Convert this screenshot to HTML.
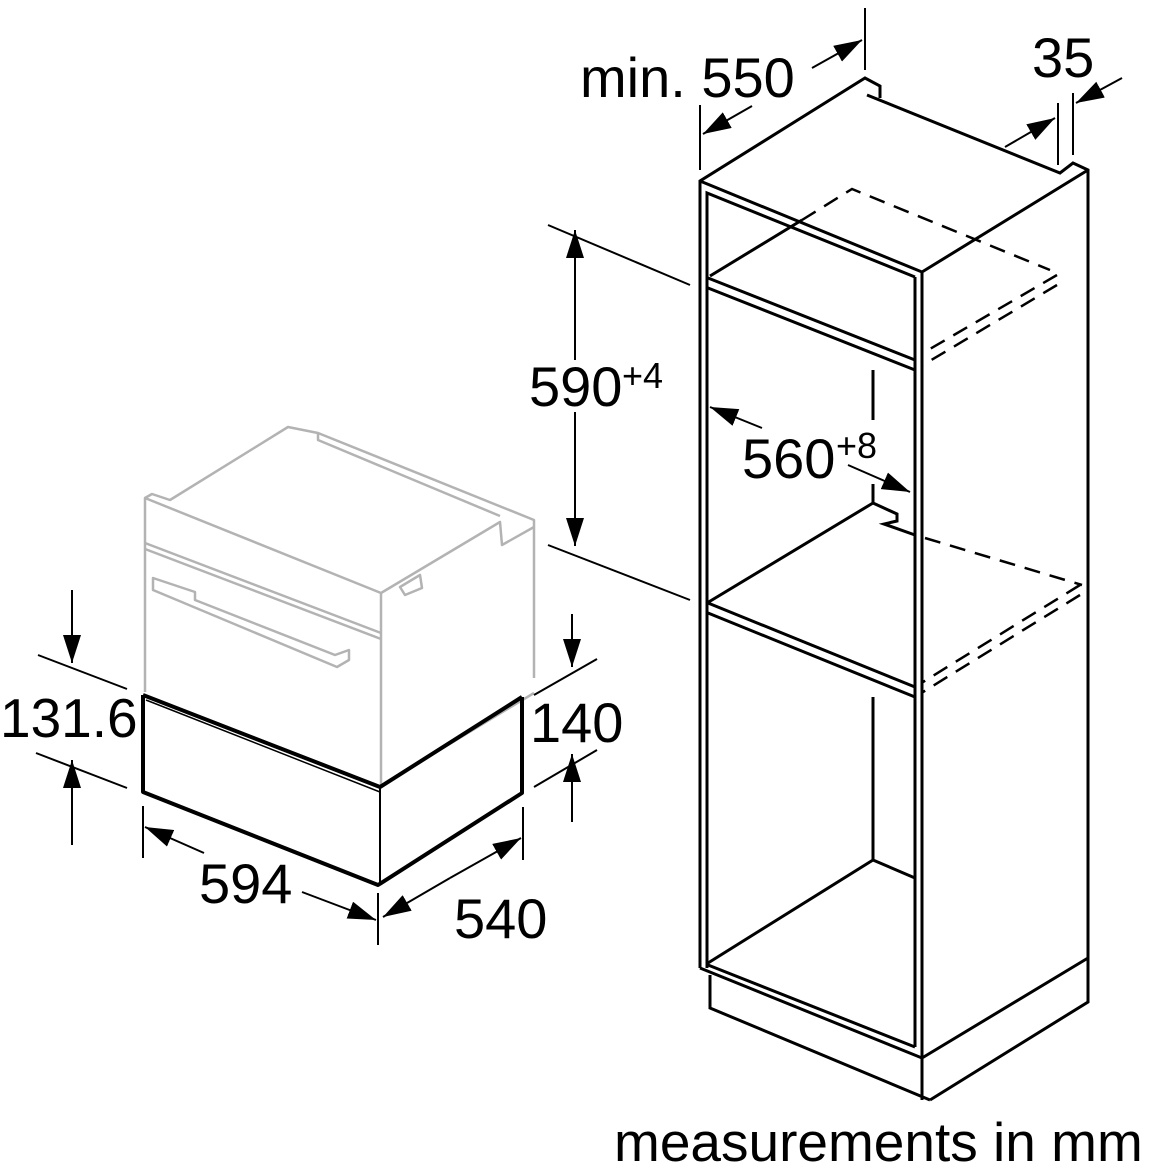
<!DOCTYPE html>
<html><head><meta charset="utf-8"><style>
html,body{margin:0;padding:0;background:#fff;}
svg{display:block;}
text{font-family:"Liberation Sans",sans-serif;fill:#000;}
</style></head><body>
<svg width="1160" height="1168" viewBox="0 0 1160 1168" xmlns="http://www.w3.org/2000/svg">
<defs>
<marker id="a" viewBox="0 0 28 18" refX="28" refY="9" markerWidth="28" markerHeight="18" markerUnits="userSpaceOnUse" orient="auto">
<path d="M0,0 L28,9 L0,18 z" fill="#000"/></marker>
</defs>
<!-- Oven (grey) -->
<g fill="none" stroke="#b3b3b3" stroke-width="2.5" stroke-linejoin="round">
<path d="M145,692 L145,498 L381,593 L381,787"/>
<path d="M145,498 L152,494 L170,500 L288,427 L318,433 L534,520 L534,678"/>
<path d="M318,433 L318,440 L500,516"/>
<path d="M381,593 L500,522 L502,545 L534,527"/>
<path d="M145,543 L381,633"/>
<path d="M145,549 L381,639"/>
<path d="M385,783 L534,693"/>
<path d="M153,578 L195,592 L195,600 L335,655 L349,650 L349,660 L337,667 L153,590 z"/>
<path d="M400,587 L420,575 L422,588 L405,595 z"/>
</g>
<!-- Drawer -->
<g fill="none" stroke="#000" stroke-width="4" stroke-linejoin="round">
<path d="M143,695 L143,792 L378,885 L522,793 L522,697"/>
<path d="M143,695 L380,787 L522,697"/>
<path d="M380,787 L380,885" stroke-width="2"/>
<path d="M146,700 L380,792" stroke-width="1.5"/>
</g>
<!-- left dimensions -->
<g fill="none" stroke="#000" stroke-width="2">
<line x1="38" y1="655" x2="127" y2="689"/>
<line x1="36" y1="753" x2="127" y2="788"/>
<line x1="72" y1="590" x2="72" y2="663" marker-end="url(#a)"/>
<line x1="72" y1="845" x2="72" y2="760" marker-end="url(#a)"/>
<line x1="534" y1="695" x2="597" y2="659"/>
<line x1="534" y1="787" x2="597" y2="750"/>
<line x1="572" y1="614" x2="572" y2="667" marker-end="url(#a)"/>
<line x1="572" y1="822" x2="572" y2="754" marker-end="url(#a)"/>
<line x1="143" y1="806" x2="143" y2="858"/>
<line x1="378" y1="893" x2="378" y2="945"/>
<line x1="523" y1="807" x2="523" y2="860"/>
<line x1="204" y1="853" x2="145" y2="827" marker-end="url(#a)"/>
<line x1="302" y1="892" x2="376" y2="920" marker-end="url(#a)"/>
<line x1="450" y1="878" x2="383" y2="917" marker-end="url(#a)"/>
<line x1="450" y1="878" x2="521" y2="838" marker-end="url(#a)"/>
</g>
<text x="0" y="737" font-size="55">131.6</text>
<text x="530" y="742" font-size="56">140</text>
<text x="199" y="903" font-size="56">594</text>
<text x="454" y="938" font-size="56">540</text>
<!-- Cabinet -->
<g fill="none" stroke="#000" stroke-width="3" stroke-linejoin="miter">
<path d="M700,968 L700,181 L865,78 L880,86 L880,98"/>
<path d="M867,95 L1060,173 L1073,163 L1088,170 L1088,1002 L930,1100"/>
<path d="M700,181 L922,272 L1088,170"/>
<path d="M922,272 L922,1100"/>
<path d="M915,277 L915,1047"/>
<path d="M707,968 L707,193 L915,277"/>
<path d="M708,278 L915,360"/>
<path d="M708,288 L915,370"/>
<path d="M710,276 L802,220"/>
<path d="M873,370 L873,420"/>
<path d="M873,484 L873,503 L897,514 L897,521 L884,524 L915,535"/>
<path d="M873,503 L707,603"/>
<path d="M708,603 L915,687"/>
<path d="M708,613 L915,697"/>
<path d="M873,697 L873,860 L915,878"/>
<path d="M873,860 L708,963"/>
<path d="M708,965 L915,1047"/>
<path d="M700,968 L922,1058 L1088,958"/>
<path d="M710,975 L710,1008 L930,1100"/>
</g>
<g fill="none" stroke="#000" stroke-width="2.5" stroke-dasharray="16,10">
<path d="M802,220 L852,189 L1050,270"/>
<path d="M1057,275 L923,353"/>
<path d="M1057,285 L923,365"/>
<path d="M925,538 L1082,585"/>
<path d="M1080,585 L923,682"/>
<path d="M1080,595 L923,692"/>
</g>
<!-- cabinet dimensions -->
<g fill="none" stroke="#000" stroke-width="2">
<line x1="865" y1="8" x2="865" y2="70"/>
<line x1="700" y1="105" x2="700" y2="170"/>
<line x1="812" y1="68" x2="862" y2="40" marker-end="url(#a)"/>
<line x1="752" y1="106" x2="703" y2="134" marker-end="url(#a)"/>
<line x1="1058" y1="103" x2="1058" y2="165"/>
<line x1="1073" y1="93" x2="1073" y2="155"/>
<line x1="1005" y1="147" x2="1055" y2="118" marker-end="url(#a)"/>
<line x1="1122" y1="78" x2="1076" y2="103" marker-end="url(#a)"/>
<line x1="548" y1="225" x2="690" y2="285"/>
<line x1="548" y1="545" x2="690" y2="600"/>
<line x1="575" y1="390" x2="575" y2="230" marker-end="url(#a)"/>
<line x1="575" y1="390" x2="575" y2="546" marker-end="url(#a)"/>
<line x1="762" y1="428" x2="710" y2="407" marker-end="url(#a)"/>
<line x1="848" y1="465" x2="910" y2="492" marker-end="url(#a)"/>
</g>
<rect x="525" y="360" width="100" height="52" fill="#fff"/>
<text x="580" y="97" font-size="56">min. 550</text>
<text x="1032" y="77" font-size="56">35</text>
<text x="529" y="406" font-size="56">590</text>
<text x="622" y="388" font-size="36">+4</text>
<text x="742" y="478" font-size="56">560</text>
<text x="836" y="458" font-size="36">+8</text>
<text x="614" y="1161" font-size="55">measurements in mm</text>
</svg>
</body></html>
